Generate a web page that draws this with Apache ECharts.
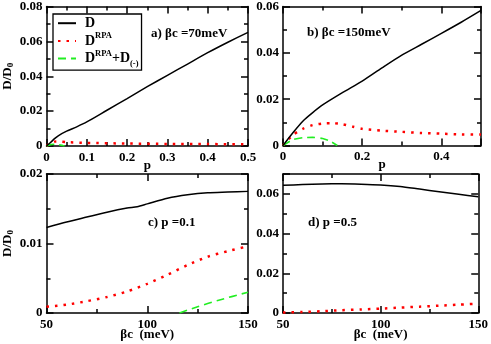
<!DOCTYPE html>
<html>
<head>
<meta charset="utf-8">
<script src="https://cdn.jsdelivr.net/npm/echarts@6/dist/echarts.min.js"></script>
<style>
  html, body { margin: 0; padding: 0; background: #fff; }
  #main { width: 491px; height: 344px; }
</style>
</head>
<body>
<div id="main"></div>
<script>
// panel a) beta c = 70 meV, x = p
const pA = [0, 0.01, 0.02, 0.03, 0.05, 0.075, 0.1, 0.15, 0.2, 0.25, 0.3, 0.35, 0.4, 0.45, 0.5];
const dA = [0, 0.002, 0.0042, 0.006, 0.0085, 0.011, 0.0138, 0.0205, 0.0272, 0.034, 0.0405, 0.047, 0.0535, 0.0595, 0.0652];
const pArpa = [0, 0.01, 0.02, 0.03, 0.05, 0.1, 0.2, 0.3, 0.4, 0.5];
const rpaA = [0, 0.0015, 0.0025, 0.0026, 0.0022, 0.0018, 0.0014, 0.0012, 0.0011, 0.001];
const pAg = [0, 0.01, 0.02, 0.03, 0.04, 0.045];
const gA = [0, 0.0008, 0.001, 0.0008, 0.0003, 0];

// panel b) beta c = 150 meV
const pB = [0, 0.025, 0.05, 0.075, 0.1, 0.15, 0.2, 0.25, 0.3, 0.35, 0.4, 0.45, 0.5];
const dB = [0, 0.0055, 0.0105, 0.0142, 0.0175, 0.0228, 0.0278, 0.0335, 0.039, 0.0437, 0.0484, 0.0532, 0.0583];
const pBrpa = [0, 0.025, 0.05, 0.075, 0.1, 0.125, 0.15, 0.175, 0.2, 0.25, 0.3, 0.35, 0.4, 0.45, 0.5];
const rpaB = [0, 0.0045, 0.0072, 0.0088, 0.0095, 0.0096, 0.0092, 0.0082, 0.0072, 0.0064, 0.0059, 0.0054, 0.0051, 0.0048, 0.0047];
const pBg = [0, 0.025, 0.05, 0.075, 0.1, 0.12, 0.137];
const gB = [0, 0.0025, 0.0034, 0.0035, 0.003, 0.0018, 0];

// panel c) p = 0.1, x = beta c (meV)
const bcC = [50, 60, 70, 80, 90, 95, 100, 110, 120, 130, 140, 150];
const dC = [0.0123, 0.0131, 0.0138, 0.0145, 0.0151, 0.0153, 0.0157, 0.0165, 0.017, 0.0173, 0.0174, 0.0175];
const bc = [50, 60, 70, 80, 90, 100, 110, 120, 130, 140, 150];
const rpaC = [0.0009, 0.0012, 0.0017, 0.0023, 0.0031, 0.0042, 0.0055, 0.0069, 0.0081, 0.0089, 0.0096];
const bcCg = [116, 125, 135, 150];
const gC = [0, 0.0009, 0.0018, 0.003];

// panel d) p = 0.5
const dD = [0.0643, 0.0647, 0.065, 0.0651, 0.0649, 0.0645, 0.0637, 0.0624, 0.0611, 0.0598, 0.0585];
const rpaD = [0.0002, 0.0005, 0.0009, 0.0014, 0.0018, 0.0022, 0.0027, 0.0032, 0.0037, 0.0042, 0.0047];

const FONT = 'Liberation Serif';
const zip = (xs, ys) => xs.map((x, i) => [x, ys[i]]);

const grids = [
    { left: 44, top: 6, width: 204, height: 140 },
    { left: 283, top: 6, width: 198, height: 139.5 },
    { left: 44, top: 174, width: 204, height: 139 },
    { left: 283, top: 174, width: 198, height: 139 }
];

const lineAx = { show: true, onZero: false, lineStyle: { color: '#000', width: 1.5 } };
const tickAx = { show: true, inside: true, length: 7, lineStyle: { color: '#000', width: 1.5 } };
const minorAx = { show: true, splitNumber: 2, length: 4, lineStyle: { color: '#000', width: 1.5 } };

// x axis pair (bottom with labels, top mirror)
function xPair(g, min, max, iv, name, gap, hideMax) {
    const base = {
        type: 'value', gridIndex: g, min: min, max: max, interval: iv,
        axisLine: lineAx, axisTick: tickAx, minorTick: minorAx, splitLine: { show: false }
    };
    return [
        Object.assign({}, base, {
            position: 'bottom',
            name: name, nameLocation: 'middle', nameGap: gap, nameMoveOverlap: false,
            nameTextStyle: { fontFamily: FONT, fontWeight: 'bold', fontSize: 13, color: '#000' },
            axisLabel: { margin: 5, fontFamily: FONT, fontWeight: 'bold', fontSize: 13, color: '#000', showMaxLabel: !hideMax }
        }),
        Object.assign({}, base, { position: 'top', axisLabel: { show: false } })
    ];
}

function yPair(g, max, iv, withName, hideMax) {
    const base = {
        type: 'value', gridIndex: g, min: 0, max: max, interval: iv,
        axisLine: lineAx, axisTick: tickAx, minorTick: minorAx, splitLine: { show: false }
    };
    const left = Object.assign({}, base, {
        position: 'left',
        axisLabel: { margin: 4, fontFamily: FONT, fontWeight: 'bold', fontSize: 13, color: '#000', showMaxLabel: !hideMax }
    });
    if (withName) {
        left.name = '{m|D/D}{s|0}';
        left.nameLocation = 'middle';
        left.nameGap = 31;
        left.nameMoveOverlap = false;
        left.nameTextStyle = {
            rich: {
                m: { fontFamily: FONT, fontWeight: 'bold', fontSize: 13, color: '#000', lineHeight: 16 },
                s: { fontFamily: FONT, fontWeight: 'bold', fontSize: 9, color: '#000', verticalAlign: 'bottom' }
            }
        };
    }
    return [left, Object.assign({}, base, { position: 'right', axisLabel: { show: false } })];
}

const xAxes = [].concat(
    xPair(0, 0, 0.5, 0.1, 'p', 13, false),
    xPair(1, 0, 0.5, 0.2, 'p', 13, true),
    xPair(2, 50, 150, 50, 'βc  (meV)', 15, false),
    xPair(3, 50, 150, 50, 'βc  (meV)', 15, false)
);
const yAxes = [].concat(
    yPair(0, 0.08, 0.02, true, false),
    yPair(1, 0.06, 0.02, false, false),
    yPair(2, 0.02, 0.01, true, false),
    yPair(3, 0.07, 0.02, false, true)
);

const styleD = { color: '#000', width: 1.5 };
const styleR = { color: '#ff0000', width: 2.5, type: [2.5, 6] };
const styleG = { color: '#22ee22', width: 1.6, type: [8, 5] };

function ser(name, g, data, ls) {
    return {
        name: name, type: 'line', xAxisIndex: g * 2, yAxisIndex: g * 2,
        data: data, showSymbol: false, symbol: 'none', smooth: 0.25,
        lineStyle: ls, itemStyle: { color: ls.color }, z: name === 'D' ? 3 : 2
    };
}

const series = [
    ser('D', 0, zip(pA, dA), styleD),
    ser('DRPA', 0, zip(pArpa, rpaA), styleR),
    ser('DRPA+D', 0, zip(pAg, gA), styleG),
    ser('D', 1, zip(pB, dB), styleD),
    ser('DRPA', 1, zip(pBrpa, rpaB), styleR),
    ser('DRPA+D', 1, zip(pBg, gB), styleG),
    ser('D', 2, zip(bcC, dC), styleD),
    ser('DRPA', 2, zip(bc, rpaC), styleR),
    ser('DRPA+D', 2, zip(bcCg, gC), styleG),
    ser('D', 3, zip(bc, dD), styleD),
    ser('DRPA', 3, zip(bc, rpaD), styleR)
];

const labels = {
    'D': '{m|D}',
    'DRPA': '{m|D}{s|RPA}',
    'DRPA+D': '{m|D}{s|RPA}{m|+D}{b|(-)}'
};

const tStyle = (txt) => ({ text: txt, font: 'bold 13px "' + FONT + '"', fill: '#000', verticalAlign: 'middle' });

const option = {
    animation: false,
    backgroundColor: '#fff',
    grid: grids,
    xAxis: xAxes,
    yAxis: yAxes,
    legend: {
        left: 53, top: 14, orient: 'vertical',
        data: ['D', 'DRPA', 'DRPA+D'],
        borderColor: '#000', borderWidth: 1.3, borderRadius: 0,
        padding: [2, 3, 2, 4], itemGap: 1, itemWidth: 18, itemHeight: 18,
        backgroundColor: '#fff',
        itemStyle: { opacity: 0 },
        formatter: (n) => labels[n],
        textStyle: {
            padding: [0, 0, 0, 4],
            rich: {
                m: { fontFamily: FONT, fontWeight: 'bold', fontSize: 14, color: '#000', lineHeight: 19 },
                s: { fontFamily: FONT, fontWeight: 'bold', fontSize: 8.5, color: '#000', verticalAlign: 'top' },
                b: { fontFamily: FONT, fontWeight: 'bold', fontSize: 8.5, color: '#000', verticalAlign: 'bottom' }
            }
        }
    },
    graphic: [
        { type: 'text', x: 151, y: 34, style: tStyle('a) βc =70meV') },
        { type: 'text', x: 307, y: 33, style: tStyle('b) βc =150meV') },
        { type: 'text', x: 148, y: 223, style: tStyle('c) p =0.1') },
        { type: 'text', x: 308, y: 223, style: tStyle('d) p =0.5') }
    ],
    series: series
};

const chart = echarts.init(document.getElementById('main'));
chart.setOption(option);
</script>
</body>
</html>
